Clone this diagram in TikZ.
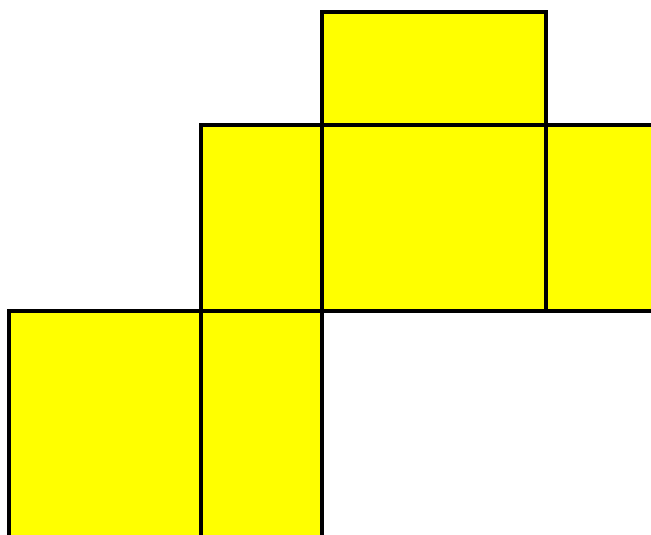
\documentclass[tikz,border=0pt]{standalone}
\usepackage{tikz}
\definecolor{cellyellow}{RGB}{255,255,0}

\begin{document}
\begin{tikzpicture}[x=0.02cm, y=-0.02cm, cell/.style={draw=black, fill=cellyellow, line width=2.2pt}]
      \clip (0,0) rectangle (651,534);
      % top cell
      \draw[cell] (322,12) rectangle (546,125);
      % middle row
      \draw[cell] (201,125) rectangle (322,311);
      \draw[cell] (322,125) rectangle (546,311);
      \draw[cell] (546,125) rectangle (670,311);
      % bottom row
      \draw[cell] (9,311) rectangle (201,550);
      \draw[cell] (201,311) rectangle (322,550);
    \end{tikzpicture}
\end{document}
